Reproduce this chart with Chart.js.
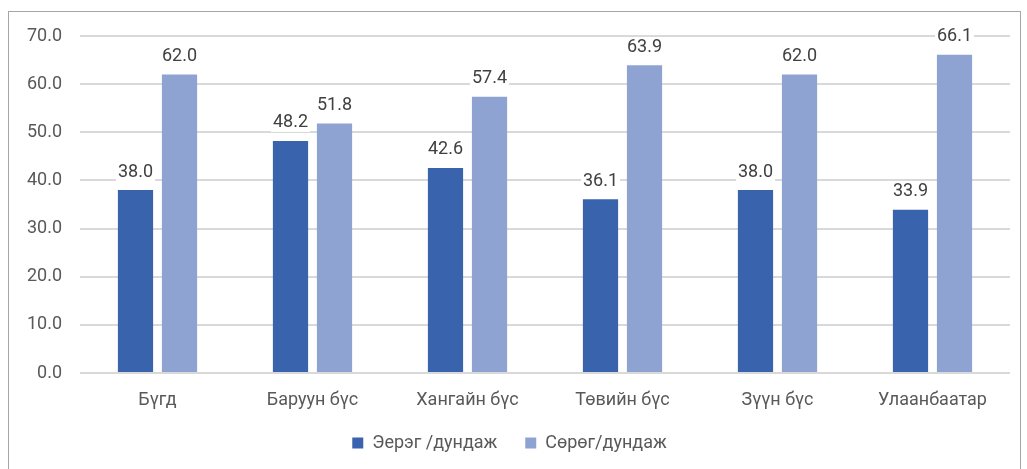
<!DOCTYPE html>
<html>
<head>
<meta charset="utf-8">
<script src="https://cdn.jsdelivr.net/npm/chart.js@4"></script>
<style>
  html, body { margin: 0; padding: 0; background: #fff; overflow: hidden; }
  #frame {
    position: absolute; left: 8px; top: 11px;
    width: 1011px; height: 470px;
    border: 1px solid #a6a6a6;
  }
  #frame canvas { display: block; }
</style>
</head>
<body>
<div id="frame"><canvas id="chart" width="1011" height="457"></canvas></div>
<script>
// categories and series
const regions = ['Бүгд', 'Баруун бүс', 'Хангайн бүс', 'Төвийн бүс', 'Зүүн бүс', 'Улаанбаатар'];
const positiveAvg = [38.0, 48.2, 42.6, 36.1, 38.0, 33.9];
const negativeAvg = [62.0, 51.8, 57.4, 63.9, 62.0, 66.1];
const seriesNames = ['Эерэг /дундаж', 'Сөрөг/дундаж'];

const FONT = 'Roboto, "DejaVu Sans Condensed", sans-serif';

// value labels above bars, with a white box behind them (like Excel)
const valueLabels = {
    id: 'valueLabels',
    afterDatasetsDraw(chart) {
        const ctx = chart.ctx;
        ctx.save();
        ctx.font = '18px ' + FONT;
        ctx.textAlign = 'center';
        ctx.textBaseline = 'bottom';
        chart.data.datasets.forEach((ds, i) => {
            chart.getDatasetMeta(i).data.forEach((bar, j) => {
                const txt = ds.data[j].toFixed(1);
                const w = ctx.measureText(txt).width;
                const y = bar.y - 9;
                ctx.fillStyle = '#ffffff';
                ctx.fillRect(bar.x - w / 2 - 2, y - 19, w + 4, 19);
                ctx.fillStyle = '#404040';
                ctx.fillText(txt, bar.x, y);
            });
        });
        ctx.restore();
    }
};

new Chart(document.getElementById('chart'), {
    type: 'bar',
    data: {
        labels: regions,
        datasets: [
            {
                label: seriesNames[0],
                data: positiveAvg,
                backgroundColor: '#3a63ad'
            },
            {
                label: seriesNames[1],
                data: negativeAvg,
                backgroundColor: '#8fa3d2'
            }
        ]
    },
    options: {
        responsive: false,
        animation: false,
        devicePixelRatio: 1,
        categoryPercentage: 0.568,
        barPercentage: 0.8,
        layout: { padding: { top: 24, right: 10, bottom: 7, left: 0 } },
        scales: {
            y: {
                min: 0,
                max: 70,
                ticks: {
                    stepSize: 10,
                    padding: 18,
                    color: '#595959',
                    font: { family: FONT, size: 18 },
                    callback: v => v.toFixed(1)
                },
                grid: { color: '#d9d9d9', lineWidth: 2, drawTicks: false },
                border: { display: false },
                afterFit: s => { s.width = 71; s.paddingTop = 0; s.paddingBottom = 0; }
            },
            x: {
                ticks: {
                    padding: 17,
                    color: '#595959',
                    font: { family: FONT, size: 18 }
                },
                grid: { display: false, drawTicks: false },
                border: { display: false },
                afterFit: s => { s.height = 51; s.paddingLeft = 0; s.paddingRight = 0; }
            }
        },
        plugins: {
            legend: {
                position: 'bottom',
                labels: {
                    boxWidth: 11,
                    boxHeight: 11,
                    padding: 10,
                    color: '#595959',
                    font: { family: FONT, size: 18 },
                    generateLabels(chart) {
                        const items = Chart.defaults.plugins.legend.labels.generateLabels(chart);
                        // extra gap after the first entry
                        items[0].text += '    ';
                        return items;
                    }
                }
            },
            tooltip: { enabled: false }
        }
    },
    plugins: [valueLabels]
});
</script>
</body>
</html>
